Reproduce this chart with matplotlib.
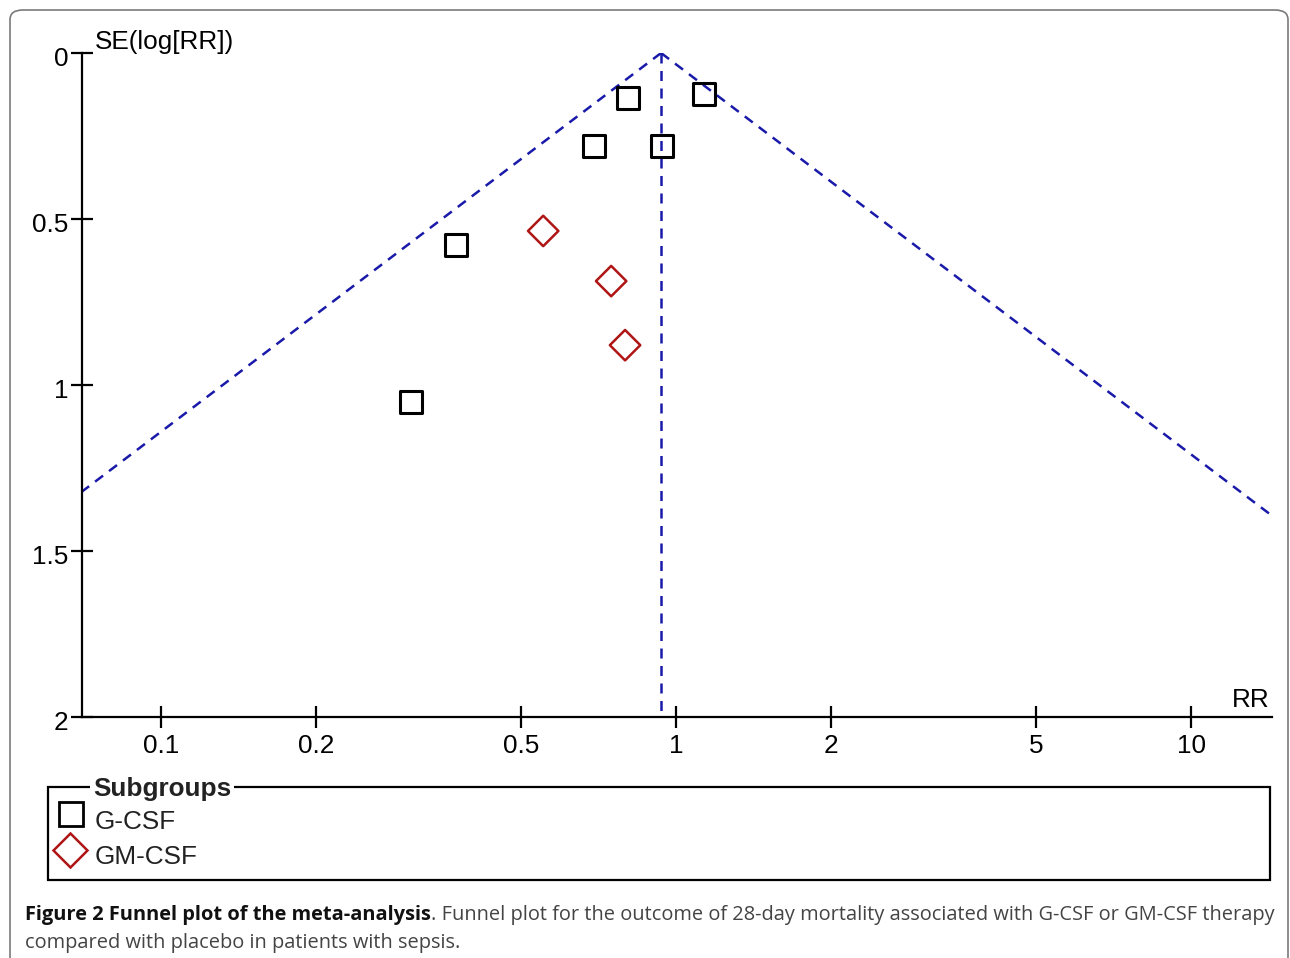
import matplotlib.pyplot as plt
from matplotlib.patches import FancyBboxPatch, Rectangle
from matplotlib.transforms import ScaledTranslation
import numpy as np

# data
gcsf_rr = [0.807, 1.133, 0.693, 0.939, 0.374, 0.306]
gcsf_se = [0.136, 0.123, 0.280, 0.280, 0.578, 1.051]
gmcsf_rr = [0.552, 0.748, 0.796]
gmcsf_se = [0.536, 0.687, 0.880]
pooled_rr = 0.935
xticks = [0.1, 0.2, 0.5, 1, 2, 5, 10]
xtick_labels = ['0.1', '0.2', '0.5', '1', '2', '5', '10']
yticks = [0, 0.5, 1, 1.5, 2]
ytick_labels = ['0', '0.5', '1', '1.5', '2']

W, H = 1290, 958
FS = 18.8
plt.rcParams['font.family'] = ['Liberation Sans', 'DejaVu Sans']
fig = plt.figure(figsize=(W / 100, H / 100), dpi=100)

# outer rounded frame
frame = FancyBboxPatch((10 / W, -20 / H), 1278 / W, (H - 10 + 20) / H,
                       boxstyle='round,pad=0,rounding_size=0.01',
                       transform=fig.transFigure, fill=False,
                       edgecolor='#7a7a7a', lw=1.2)
fig.patches.append(frame)

ax = fig.add_axes([82 / W, 1 - 717 / H, (1272 - 82) / W, (717 - 53) / H])
ax.set_xscale('log')
ax.set_xlim(0.0702, 14.36)
ax.set_ylim(2, 0)

# funnel
se = np.linspace(0, 2, 200)
blue = '#1a1aaa'
ax.plot(pooled_rr * np.exp(-1.96 * se), se, ls=(0, (4, 3)), color=blue, lw=1.8)
ax.plot(pooled_rr * np.exp(1.96 * se), se, ls=(0, (4, 3)), color=blue, lw=1.8)
ax.plot([pooled_rr, pooled_rr], [0, 2], ls=(0, (4, 3)), color=blue, lw=1.8)

ax.scatter(gcsf_rr, gcsf_se, marker='s', s=260, facecolors='none',
           edgecolors='black', linewidths=2.2, zorder=3, clip_on=False)
ax.scatter(gmcsf_rr, gmcsf_se, marker='D', s=240, facecolors='none',
           edgecolors='#b01515', linewidths=1.8, zorder=3, clip_on=False)

for s in ['top', 'right']:
    ax.spines[s].set_visible(False)
ax.spines['left'].set_linewidth(1.6)
ax.spines['bottom'].set_linewidth(1.6)
ax.set_xticks(xticks)
ax.set_xticklabels(xtick_labels)
ax.xaxis.set_minor_locator(plt.NullLocator())
ax.set_yticks(yticks)
ax.set_yticklabels(ytick_labels)
ax.tick_params(direction='inout', length=16, width=1.6, labelsize=FS)
ax.tick_params(axis='x', pad=4)
ax.tick_params(axis='y', pad=2)
# labels sit a little below their ticks in the original
shift = ScaledTranslation(0, -4 / 100, fig.dpi_scale_trans)
for lab in ax.get_yticklabels():
    lab.set_transform(lab.get_transform() + shift)

fig.text(95 / W, 1 - 42 / H, 'SE(log[RR])', fontsize=FS, ha='left', va='center')
fig.text(1270 / W, 1 - 700 / H, 'RR', fontsize=FS, ha='right', va='center')

# legend box
leg = fig.add_axes([0, 0, 1, 1])
leg.set_xlim(0, W)
leg.set_ylim(H, 0)
leg.axis('off')
leg.add_patch(Rectangle((48, 787), 1222, 93, fill=False, edgecolor='black', lw=1.6))
leg.text(93, 789, 'Subgroups', fontsize=FS, fontweight='bold', ha='left', va='center',
         color='#222222', bbox=dict(facecolor='white', edgecolor='none', pad=2))
leg.plot([71], [814], marker='s', ms=17, mfc='none', mec='black', mew=2)
leg.plot([70], [850], marker='D', ms=17, mfc='none', mec='#b01515', mew=1.8)
leg.text(95, 822, 'G-CSF', fontsize=FS, ha='left', va='center', color='#222222')
leg.text(95, 857, 'GM-CSF', fontsize=FS, ha='left', va='center', color='#222222')

# caption
cap_font = ['Open Sans', 'DejaVu Sans']
cap_fs = 14.4
bold = leg.text(25, 915, 'Figure 2 Funnel plot of the meta-analysis', fontsize=cap_fs,
                fontweight='bold', family=cap_font, ha='left', va='center', color='#111111')
fig.canvas.draw()
bb = bold.get_window_extent()
leg.text(25 + bb.width, 915,
         '. Funnel plot for the outcome of 28-day mortality associated with G-CSF or GM-CSF therapy',
         fontsize=cap_fs, family=cap_font, ha='left', va='center', color='#444444')
leg.text(25, 943, 'compared with placebo in patients with sepsis.', fontsize=cap_fs,
         family=cap_font, ha='left', va='center', color='#444444')

fig.savefig('out.png', dpi=100)
